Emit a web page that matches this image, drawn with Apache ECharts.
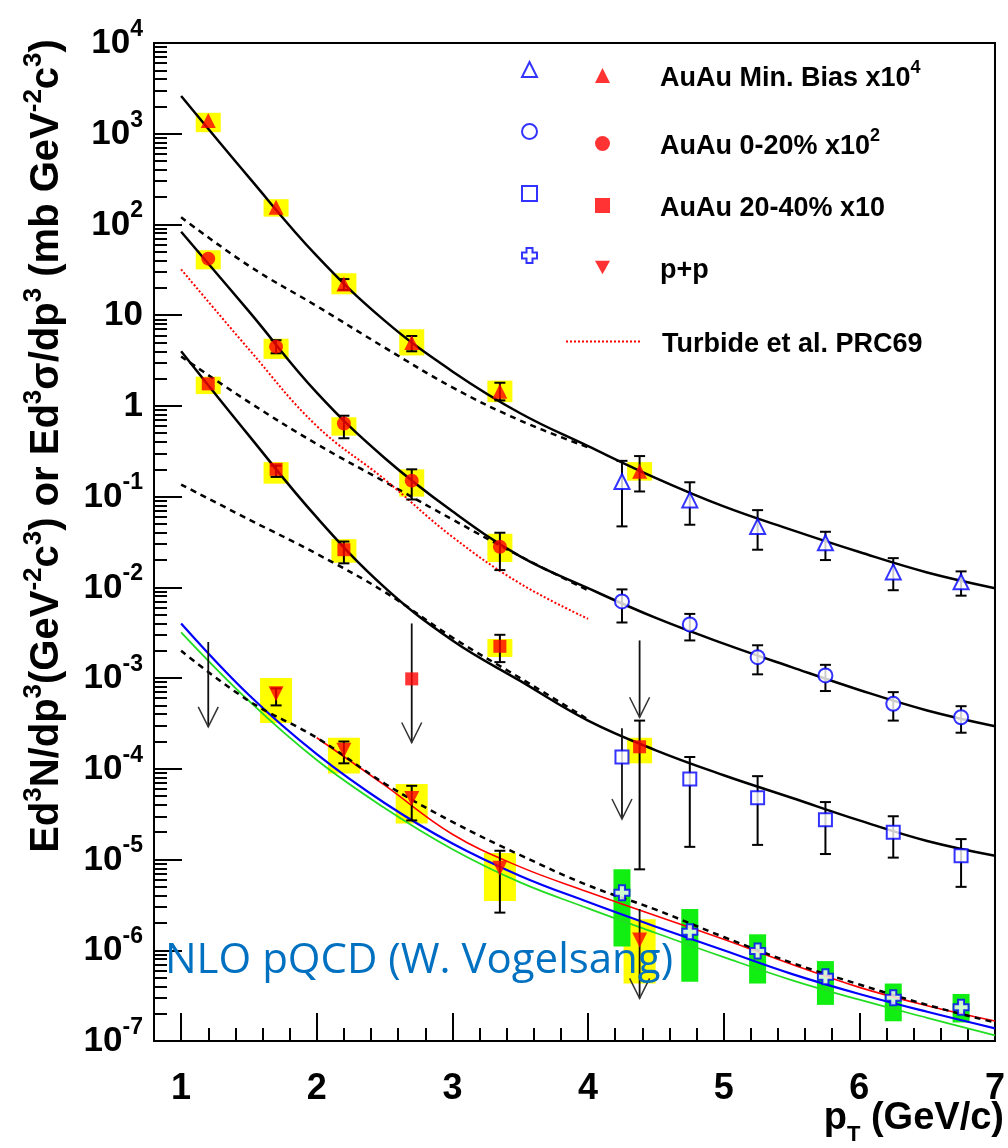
<!DOCTYPE html>
<html>
<head>
<meta charset="utf-8">
<script src="https://cdn.jsdelivr.net/npm/echarts@6/dist/echarts.min.js"></script>
<style>
html, body { margin: 0; padding: 0; background: #fff; }
#chart { width: 1008px; height: 1148px; }
</style>
</head>
<body>
<div id="chart"></div>
<script>
// AuAu min. bias x10^4
const mbRedX = [1.2, 1.7, 2.2, 2.7, 3.35, 4.38];
const mbRedY = [1400, 155, 22, 5.0, 1.45, 0.19];
const mbRedErrLo = [null, null, 19, 4.0, 1.15, 0.114];
const mbRedErrHi = [null, null, 25, 5.9, 1.8, 0.28];
const mbRedSysLo = [1040, 122, 17, 3.6, 1.1, 0.15];
const mbRedSysHi = [1700, 190, 29, 7.0, 1.9, 0.24];

const mbBlueX = [4.25, 4.75, 5.25, 5.75, 6.25, 6.75];
const mbBlueY = [0.147, 0.092, 0.047, 0.031, 0.0148, 0.0115];
const mbBlueErrLo = [0.047, 0.049, 0.026, 0.020, 0.0093, 0.0081];
const mbBlueErrHi = [0.248, 0.144, 0.071, 0.041, 0.021, 0.015];

// AuAu 0-20% x10^2
const c020RedX = [1.2, 1.7, 2.2, 2.7, 3.35];
const c020RedY = [42, 4.5, 0.64, 0.15, 0.028];
const c020RedErrLo = [null, 3.8, 0.44, 0.093, 0.0155];
const c020RedErrHi = [null, 5.3, 0.78, 0.20, 0.040];
const c020RedSysLo = [32, 3.3, 0.47, 0.10, 0.019];
const c020RedSysHi = [52, 5.5, 0.75, 0.20, 0.039];

const c020BlueX = [4.25, 4.75, 5.25, 5.75, 6.25, 6.75];
const c020BlueY = [0.0070, 0.0039, 0.0017, 0.00107, 0.00052, 0.00037];
const c020BlueErrLo = [0.0041, 0.0026, 0.0011, 0.00072, 0.00034, 0.00025];
const c020BlueErrHi = [0.0095, 0.0051, 0.0023, 0.0014, 0.00070, 0.00049];

// AuAu 20-40% x10
const c2040RedX = [1.2, 1.7, 2.2, 2.7, 3.35, 4.38];
const c2040RedY = [1.75, 0.20, 0.026, 0.00098, 0.00224, 0.000175];
const c2040RedErrLo = [null, 0.165, 0.0184, null, 0.0015, 7.8e-6];
const c2040RedErrHi = [null, 0.22, 0.032, null, 0.0030, 3.4e-4];
const c2040RedSysLo = [1.35, 0.139, 0.0187, null, 0.00171, 1.15e-4];
const c2040RedSysHi = [2.1, 0.24, 0.034, null, 0.0027, 2.2e-4];

const c2040BlueX = [4.25, 4.75, 5.25, 5.75, 6.25, 6.75];
const c2040BlueY = [1.35e-4, 7.7e-5, 4.8e-5, 2.75e-5, 2.0e-5, 1.1e-5];
const c2040BlueErrLo = [null, 1.38e-5, 1.45e-5, 1.15e-5, 1.05e-5, 5.0e-6];
const c2040BlueErrHi = [null, 1.35e-4, 8.3e-5, 4.3e-5, 3.0e-5, 1.68e-5];

// p+p
const ppRedX = [1.7, 2.2, 2.7, 3.35, 4.38];
const ppRedY = [6.7e-4, 1.6e-4, 4.7e-5, 8.0e-6, 1.3e-6];
const ppRedErrLo = [5.0e-4, 1.15e-4, 2.7e-5, 2.6e-6, null];
const ppRedErrHi = [7.7e-4, 2.0e-4, 6.5e-5, 1.25e-5, null];
const ppRedSysLo = [3.2e-4, 8.9e-5, 2.5e-5, 3.5e-6, 4.3e-7];
const ppRedSysHi = [1.0e-3, 2.2e-4, 6.8e-5, 1.18e-5, 2.2e-6];

const ppBlueX = [4.25, 4.75, 5.25, 5.75, 6.25, 6.75];
const ppBlueY = [4.3e-6, 1.6e-6, 9.8e-7, 5.1e-7, 3.0e-7, 2.35e-7];
const ppBlueSysLo = [1.1e-6, 4.5e-7, 4.3e-7, 2.5e-7, 1.65e-7, 1.6e-7];
const ppBlueSysHi = [7.8e-6, 2.85e-6, 1.5e-6, 7.6e-7, 4.3e-7, 3.3e-7];

// upper limits (arrows): x, start value, arrow tip value
const limX = [1.2, 2.7, 4.25, 4.38, 4.38];
const limTop = [2.5e-3, 4.0e-3, 2.8e-4, 2.6e-3, 2.85e-6];
const limTip = [2.9e-4, 1.95e-4, 2.8e-5, 3.7e-4, 2.95e-7];

// ---------- curves ----------
const fitX = [1.0, 1.5, 2.0, 2.5, 3.0, 3.5, 4.0, 4.5, 5.0, 5.5, 6.0, 6.5, 7.0];
const mbFit = [2600, 330, 45, 8.7, 2.4, 0.83, 0.36, 0.16, 0.078, 0.043, 0.0245, 0.0146, 0.0098];
const c020Fit = [83, 11, 1.4, 0.267, 0.069, 0.022, 0.0098, 0.0046, 0.0024, 0.00132, 7.4e-4, 4.4e-4, 2.95e-4];
const c2040Fit = [4.0, 0.47, 0.059, 0.01, 0.0026, 9.3e-4, 3.4e-4, 1.6e-4, 8.5e-5, 4.8e-5, 2.7e-5, 1.6e-5, 1.1e-5];

const scaledX = [1.0, 1.5, 2.0, 2.5, 3.0, 3.5, 4.0];
const mbScaled = [120, 35, 12.6, 4.4, 1.6, 0.69, 0.35];
const c020Scaled = [3.5, 1.1, 0.38, 0.146, 0.056, 0.022, 0.0093];
const c2040Scaled = [0.136, 0.056, 0.0234, 0.0089, 0.0028, 0.001, 3.5e-4];
const ppScaled = [2.0e-3, 5.6e-4, 2.2e-4, 6.9e-5, 2.6e-5, 1.12e-5, 5.2e-6, 2.8e-6, 1.4e-6, 7.3e-7, 4.2e-7, 2.5e-7, 1.6e-7];

const nloBlue = [4.0e-3, 6.5e-4, 1.45e-4, 4.2e-5, 1.5e-5, 6.6e-6, 3.4e-6, 1.82e-6, 1.0e-6, 5.5e-7, 3.3e-7, 2.1e-7, 1.38e-7];
const nloGreen = [3.2e-3, 5.6e-4, 1.25e-4, 3.7e-5, 1.3e-5, 5.6e-6, 2.9e-6, 1.55e-6, 8.4e-7, 4.7e-7, 2.85e-7, 1.8e-7, 1.15e-7];
const nloRedX = [2.0, 2.5, 3.0, 3.5, 4.0, 4.5, 5.0, 5.5, 6.0, 6.5, 7.0];
const nloRed = [2.2e-4, 6.6e-5, 1.9e-5, 8.3e-6, 4.4e-6, 2.4e-6, 1.32e-6, 7.0e-7, 3.9e-7, 2.45e-7, 1.66e-7];

const turbideX = [1.0, 1.5, 2.0, 2.5, 3.0, 3.5, 4.0];
const turbide = [32, 4.2, 0.6, 0.155, 0.036, 0.011, 0.0045];

// axis ticks
const xMajor = [1, 2, 3, 4, 5, 6, 7];
const yDecades = [1e-7, 1e-6, 1e-5, 1e-4, 1e-3, 1e-2, 1e-1, 1, 10, 100, 1e3, 1e4];
const yMinor = [];
yDecades.slice(0, -1).forEach(d => { for (let m = 2; m <= 9; m++) yMinor.push(m * d); });

// ---------- helpers ----------
const zip = (xs, ys) => xs.map((x, i) => [x, ys[i]]);
const rows = (xs, lo, hi) => xs.map((x, i) => [x, lo[i], hi[i]]).filter(r => r[1] != null && r[2] != null);

function errSeries(xs, lo, hi) {
  return {
    type: 'custom', z: 4, silent: true, data: rows(xs, lo, hi), encode: { x: 0, y: [1, 2] },
    renderItem: (params, api) => {
      const a = api.coord([api.value(0), api.value(1)]);
      const b = api.coord([api.value(0), api.value(2)]);
      const c = 5.5, st = { stroke: '#000', lineWidth: 2 };
      return { type: 'group', children: [
        { type: 'line', shape: { x1: a[0], y1: a[1], x2: b[0], y2: b[1] }, style: st },
        { type: 'line', shape: { x1: a[0] - c, y1: a[1], x2: a[0] + c, y2: a[1] }, style: st },
        { type: 'line', shape: { x1: b[0] - c, y1: b[1], x2: b[0] + c, y2: b[1] }, style: st }
      ] };
    }
  };
}

function boxSeries(xs, lo, hi, color, width) {
  return {
    type: 'custom', z: 1, silent: true, data: rows(xs, lo, hi), encode: { x: 0, y: [1, 2] },
    renderItem: (params, api) => {
      const a = api.coord([api.value(0), api.value(2)]);
      const b = api.coord([api.value(0), api.value(1)]);
      return { type: 'rect', shape: { x: a[0] - width / 2, y: a[1], width: width, height: b[1] - a[1] }, style: { fill: color } };
    }
  };
}

function lineSeries(name, xs, ys, color, width, type, z) {
  return {
    name: name, type: 'line', data: zip(xs, ys), smooth: 0.4, symbol: 'none', silent: true, z: z || 2,
    lineStyle: { color: color, width: width, type: type || 'solid' }, itemStyle: { color: color }
  };
}

function markSeries(name, xs, ys, symbol, size, itemStyle, rotate) {
  return {
    name: name, type: 'scatter', data: zip(xs, ys), symbol: symbol, symbolSize: size,
    symbolRotate: rotate || 0, itemStyle: itemStyle, z: 5, silent: true
  };
}

const red = { color: '#ff0000' };
const blueOpen = { color: '#0000ff', borderWidth: 2 };
const crossPath = 'path://M3,0H7V3H10V7H7V10H3V7H0V3H3Z';
const downTriangle = 'path://M0,0H10L5,9Z';
const font = 'Liberation Sans';

const legendText = {
  'AuAu Min. Bias': '{t|AuAu Min. Bias x10}{s|4}',
  'AuAu 0-20%': '{t|AuAu 0-20% x10}{s|2}',
  'AuAu 20-40%': '{t|AuAu 20-40% x10}',
  'p+p': '{t|p+p}',
  'Turbide': '{t|Turbide et al. PRC69}'
};
const legendRich = {
  t: { fontSize: 27, fontWeight: 'bold', fontFamily: font, lineHeight: 33, verticalAlign: 'bottom', color: '#000' },
  s: { fontSize: 18, fontWeight: 'bold', fontFamily: font, lineHeight: 18, padding: [0, 0, 15, 0], verticalAlign: 'bottom', color: '#000' }
};
const legendBase = { orient: 'vertical', top: 54, itemHeight: 15, itemGap: 35, selectedMode: false, symbolKeepAspect: true };

const myChart = echarts.init(document.getElementById('chart'), null, { renderer: 'canvas' });

const options = {
  animation: false,
  backgroundColor: '#fff',
  grid: { left: 154, right: 8, top: 26, bottom: 107, show: true, borderColor: '#000', borderWidth: 2 },
  xAxis: [
    {
      type: 'value', min: 0.8, max: 7, interval: 0.2, position: 'bottom',
      axisLine: { show: true, lineStyle: { color: '#000', width: 2 } },
      axisTick: { show: true, inside: true, length: 13, lineStyle: { color: '#000', width: 2 } },
      axisLabel: { show: false }, splitLine: { show: false }
    },
    {
      type: 'value', min: 0.8, max: 7, position: 'bottom',
      axisLine: { show: false },
      axisTick: { show: true, inside: true, length: 28, customValues: xMajor, lineStyle: { color: '#000', width: 2 } },
      axisLabel: { show: true, customValues: xMajor, margin: 30, color: '#000', fontSize: 36, fontWeight: 'bold', fontFamily: font },
      splitLine: { show: false }
    }
  ],
  yAxis: [
    {
      type: 'log', logBase: 10, min: 1e-7, max: 1e4, position: 'left',
      axisLine: { show: true, lineStyle: { color: '#000', width: 2 } },
      axisTick: { show: true, inside: true, length: 28, customValues: yDecades, lineStyle: { color: '#000', width: 2 } },
      axisLabel: {
        show: true, customValues: yDecades, margin: 11,
        formatter: v => {
          const e = Math.round(Math.log10(v));
          if (e === 0) return '{p|1}';
          if (e === 1) return '{p|10}';
          return '{b|10}{s|' + e + '}';
        },
        rich: {
          p: { fontSize: 35, fontWeight: 'bold', fontFamily: font, color: '#000', lineHeight: 36 },
          b: { fontSize: 35, fontWeight: 'bold', fontFamily: font, color: '#000', lineHeight: 36, padding: [26, 0, 0, 0], verticalAlign: 'bottom' },
          s: { fontSize: 23, fontWeight: 'bold', fontFamily: font, color: '#000', lineHeight: 23, padding: [0, 0, 20, 0], verticalAlign: 'bottom' }
        }
      },
      splitLine: { show: false }
    },
    {
      type: 'log', logBase: 10, min: 1e-7, max: 1e4, position: 'left',
      axisLine: { show: false },
      axisTick: { show: true, inside: true, length: 13, customValues: yMinor, lineStyle: { color: '#000', width: 2 } },
      axisLabel: { show: false }, splitLine: { show: false }
    }
  ],
  legend: [
    Object.assign({}, legendBase, {
      data: ['MB open', '0-20 open', '20-40 open', 'pp open'],
      left: 516, itemWidth: 15, formatter: () => '{t| }', textStyle: { rich: legendRich }
    }),
    Object.assign({}, legendBase, {
      data: ['AuAu Min. Bias', 'AuAu 0-20%', 'AuAu 20-40%', { name: 'p+p', icon: downTriangle }],
      left: 590, itemWidth: 15, formatter: n => legendText[n], textStyle: { rich: legendRich, padding: [0, 0, 0, 45] }
    }),
    Object.assign({}, legendBase, {
      data: [{ name: 'Turbide', itemStyle: { color: 'rgba(0,0,0,0)', borderWidth: 0 } }],
      top: 54 + 4 * 68, left: 560, itemWidth: 76, formatter: n => legendText[n], textStyle: { rich: legendRich, padding: [0, 0, 0, 15] }
    })
  ],
  graphic: [
    {
      type: 'text', x: 46, y: 446, rotation: Math.PI / 2, silent: true,
      style: {
        text: '{b|Ed}{s|3}{b|N/dp}{s|3}{b|(GeV}{s|-2}{b|c}{s|3}{b|) or Ed}{s|3}{b|σ/dp}{s|3}{b| (mb GeV}{s|-2}{b|c}{s|3}{b|)}',
        align: 'center', verticalAlign: 'middle',
        rich: {
          b: { fontSize: 40, fontWeight: 'bold', fontFamily: font, fill: '#000', lineHeight: 42, verticalAlign: 'bottom' },
          s: { fontSize: 26, fontWeight: 'bold', fontFamily: font, fill: '#000', lineHeight: 26, padding: [0, 0, 20, 0], verticalAlign: 'bottom' }
        }
      }
    },
    {
      type: 'text', x: 1004, y: 1100, silent: true,
      style: {
        text: '{b|p}{u|T}{b| (GeV/c)}', align: 'right', verticalAlign: 'top',
        rich: {
          b: { fontSize: 38, fontWeight: 'bold', fontFamily: font, fill: '#000', lineHeight: 40, verticalAlign: 'top' },
          u: { fontSize: 22, fontWeight: 'bold', fontFamily: font, fill: '#000', lineHeight: 22, padding: [24, 0, 0, 0], verticalAlign: 'top' }
        }
      }
    },
    {
      type: 'text', x: 165, y: 961, z: 100, silent: true,
      style: { text: 'NLO pQCD (W. Vogelsang)', fontSize: 42, fontFamily: 'Open Sans', fill: '#0070c0', verticalAlign: 'middle' }
    }
  ],
  series: [
    // systematic boxes
    boxSeries(mbRedX, mbRedSysLo, mbRedSysHi, '#ffff00', 25),
    boxSeries(c020RedX, c020RedSysLo, c020RedSysHi, '#ffff00', 25),
    boxSeries(c2040RedX, c2040RedSysLo, c2040RedSysHi, '#ffff00', 25),
    boxSeries(ppRedX, ppRedSysLo, ppRedSysHi, '#ffff00', 32),
    boxSeries(ppBlueX, ppBlueSysLo, ppBlueSysHi, '#11ee11', 17),

    // theory curves
    lineSeries('MB fit', fitX, mbFit, '#000', 2.5, 'solid', 3),
    lineSeries('0-20 fit', fitX, c020Fit, '#000', 2.5, 'solid', 3),
    lineSeries('20-40 fit', fitX, c2040Fit, '#000', 2.5, 'solid', 3),
    lineSeries('MB scaled', scaledX, mbScaled, '#000', 2.5, [6, 5], 3),
    lineSeries('0-20 scaled', scaledX, c020Scaled, '#000', 2.5, [6, 5], 3),
    lineSeries('20-40 scaled', scaledX, c2040Scaled, '#000', 2.5, [6, 5], 3),
    lineSeries('NLO green', fitX, nloGreen, '#22dd22', 1.8),
    lineSeries('NLO blue', fitX, nloBlue, '#0000ff', 2.2),
    lineSeries('NLO red', nloRedX, nloRed, '#ff0000', 1.6),
    lineSeries('pp scaled', fitX, ppScaled, '#000', 2.5, [6, 5], 3),
    lineSeries('Turbide', turbideX, turbide, '#ff0000', 2, [2, 2], 3),

    // error bars
    errSeries(mbRedX, mbRedErrLo, mbRedErrHi),
    errSeries(mbBlueX, mbBlueErrLo, mbBlueErrHi),
    errSeries(c020RedX, c020RedErrLo, c020RedErrHi),
    errSeries(c020BlueX, c020BlueErrLo, c020BlueErrHi),
    errSeries(c2040RedX, c2040RedErrLo, c2040RedErrHi),
    errSeries(c2040BlueX, c2040BlueErrLo, c2040BlueErrHi),
    errSeries(ppRedX, ppRedErrLo, ppRedErrHi),

    // upper limits
    {
      type: 'custom', z: 4, silent: true, data: rows(limX, limTop, limTip), encode: { x: 0, y: [1, 2] },
      renderItem: (params, api) => {
        const a = api.coord([api.value(0), api.value(1)]);
        const b = api.coord([api.value(0), api.value(2)]);
        return { type: 'group', children: [
          { type: 'line', shape: { x1: a[0], y1: a[1], x2: b[0], y2: b[1] }, style: { stroke: '#111', lineWidth: 1.8 } },
          { type: 'polyline', shape: { points: [[b[0] - 10, b[1] - 20], [b[0], b[1]], [b[0] + 10, b[1] - 20]] }, style: { stroke: '#333', lineWidth: 1.5, fill: 'none' } }
        ] };
      }
    },

    // markers
    markSeries('AuAu Min. Bias', mbRedX, mbRedY, 'triangle', 15, red),
    markSeries('MB open', mbBlueX, mbBlueY, 'emptyTriangle', 15, blueOpen),
    markSeries('AuAu 0-20%', c020RedX, c020RedY, 'circle', 14, red),
    markSeries('0-20 open', c020BlueX, c020BlueY, 'emptyCircle', 14, blueOpen),
    markSeries('AuAu 20-40%', c2040RedX, c2040RedY, 'rect', 13, red),
    markSeries('20-40 open', c2040BlueX, c2040BlueY, 'emptyRect', 13, blueOpen),
    markSeries('p+p', ppRedX, ppRedY, 'triangle', 15, red, 180),
    markSeries('pp open', ppBlueX, ppBlueY, crossPath, 15, { color: '#fff', borderColor: '#0000ff', borderWidth: 2 })
  ]
};
myChart.setOption(options);
</script>
</body>
</html>
